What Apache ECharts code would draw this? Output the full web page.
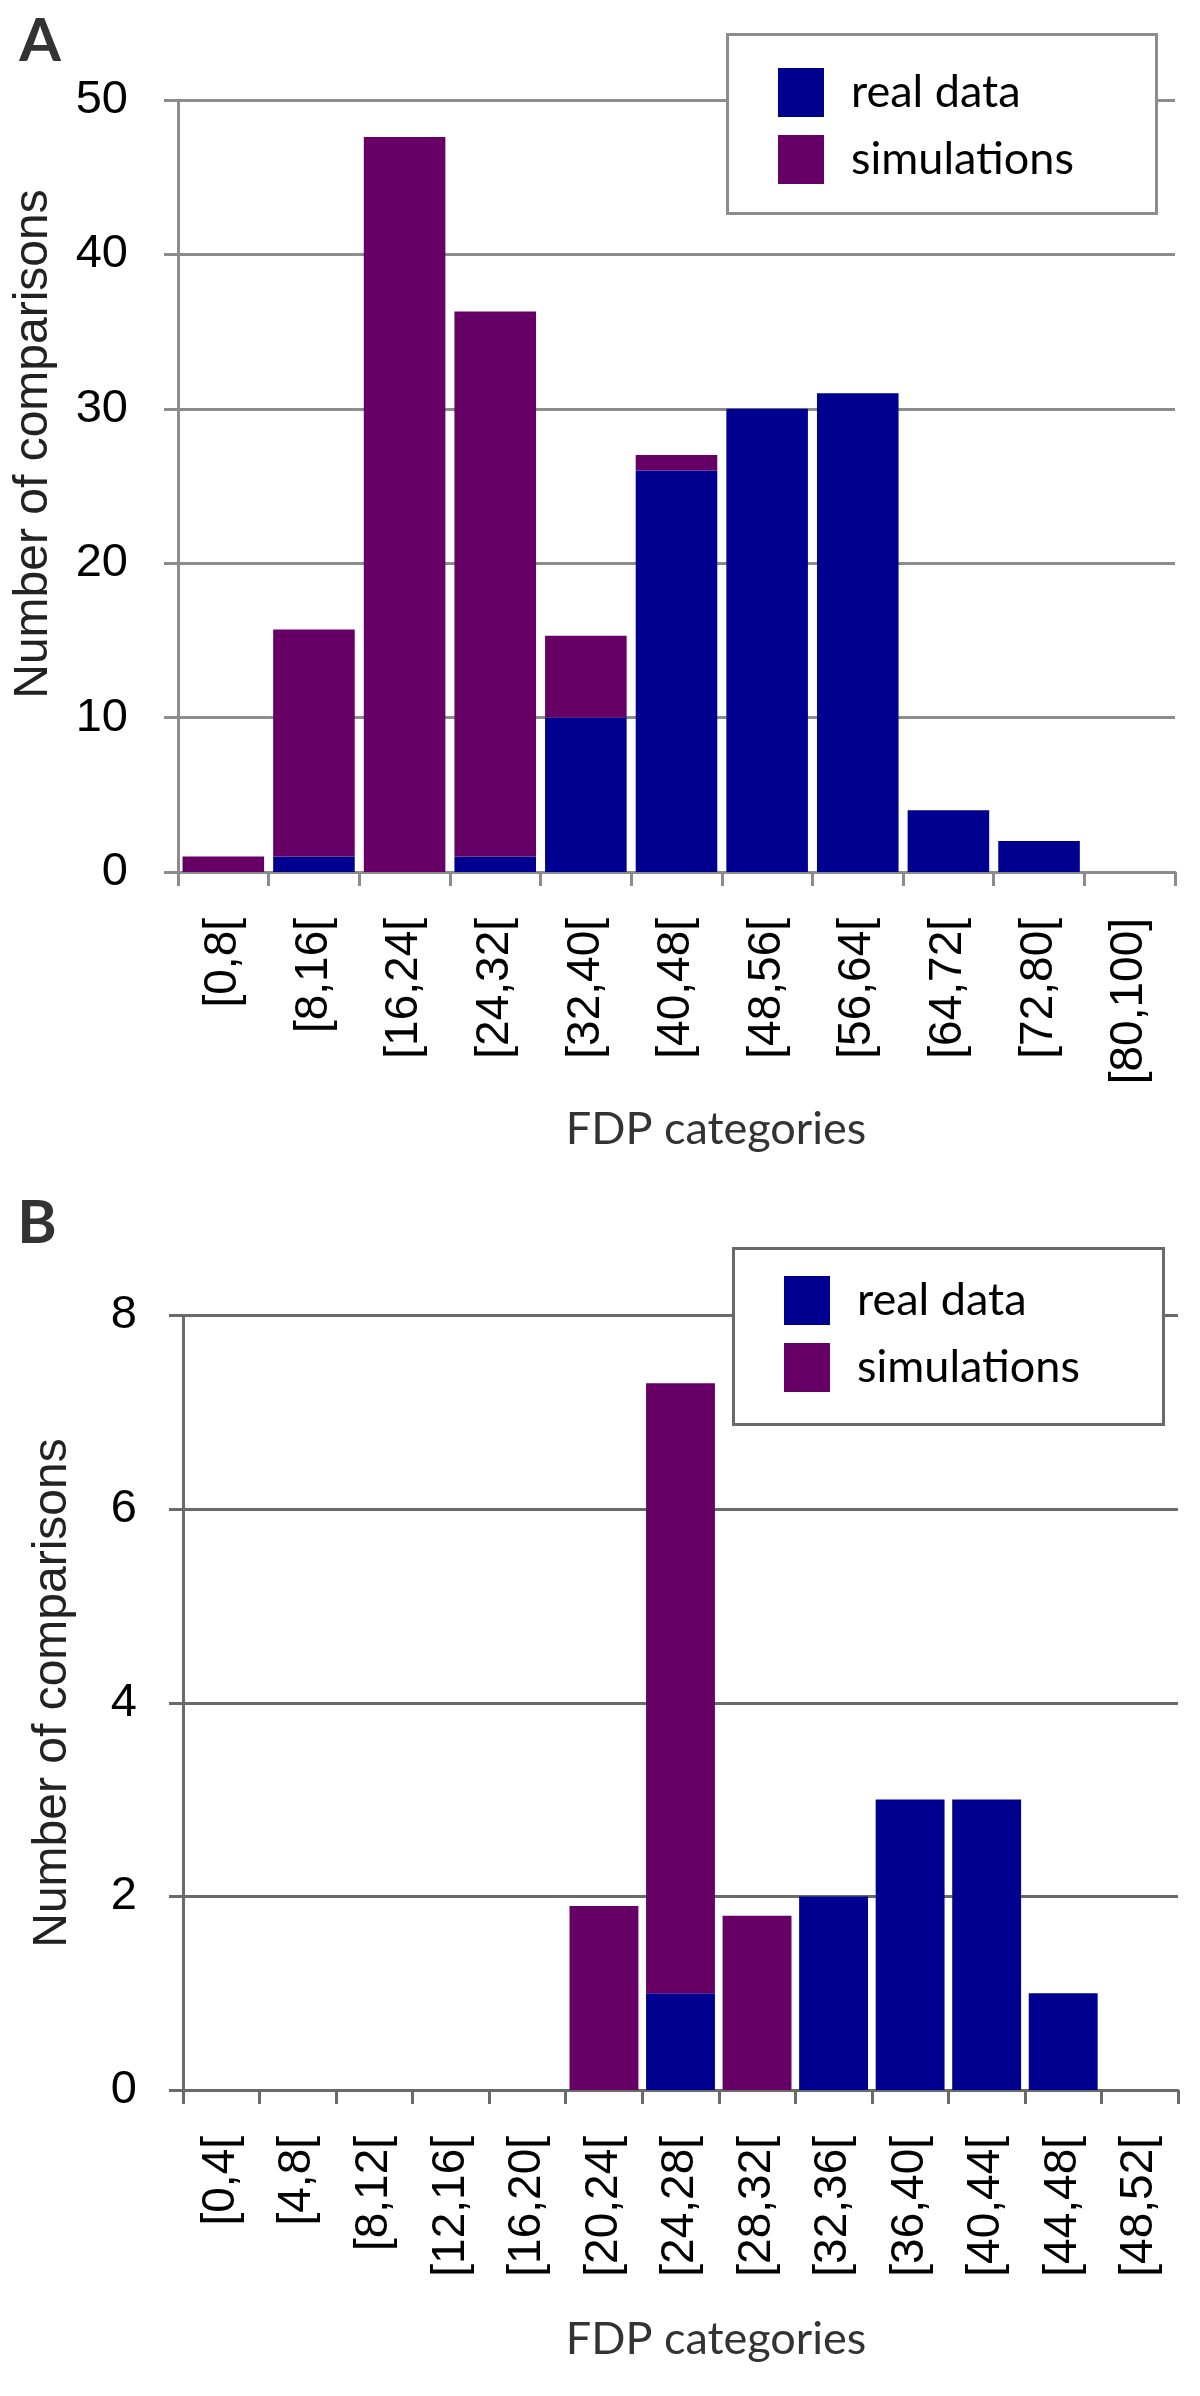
<!DOCTYPE html>
<html>
<head>
<meta charset="utf-8">
<script src="https://cdn.jsdelivr.net/npm/echarts@6/dist/echarts.min.js"></script>
<style>
html,body{margin:0;padding:0;background:#fff;}
#chart{width:1200px;height:2396px;}
</style>
</head>
<body>
<div id="chart"></div>
<script>
// ---- Data ----
const catsA = ['[0,8[','[8,16[','[16,24[','[24,32[','[32,40[','[40,48[','[48,56[','[56,64[','[64,72[','[72,80[','[80,100]'];
const realA = [0, 1, 0, 1, 10, 26, 30, 31, 4, 2, 0];
const simA  = [1, 14.7, 47.6, 35.3, 5.3, 1, 0, 0, 0, 0, 0];

const catsB = ['[0,4[','[4,8[','[8,12[','[12,16[','[16,20[','[20,24[','[24,28[','[28,32[','[32,36[','[36,40[','[40,44[','[44,48[','[48,52['];
const realB = [0, 0, 0, 0, 0, 0, 1, 0, 2, 3, 3, 1, 0];
const simB  = [0, 0, 0, 0, 0, 1.9, 6.3, 1.8, 0, 0, 0, 0, 0];

const seriesNames = ['real data', 'simulations'];
const yMaxA = 50, yStepA = 10;
const yMaxB = 8, yStepB = 2;
const panelLabels = ['A', 'B'];
const xTitle = 'FDP categories';
const yTitle = 'Number of comparisons';

// ---- Styles ----
const BLUE = '#000090', PURPLE = '#660066';
const GREY_A = '#8c8c8c', GREY_B = '#6a6a6a';
const SANS = '"Liberation Sans", Arial, sans-serif';
const CAL = 'Lato, "Open Sans", sans-serif';

function xAxisCfg(idx, cats, grey) {
  return {
    type: 'category', gridIndex: idx, data: cats,
    boundaryGap: true,
    axisLine: { show: true, lineStyle: { color: grey, width: 3 } },
    axisTick: { show: true, length: 14, interval: 0, lineStyle: { color: grey, width: 3 } },
    axisLabel: { interval: 0, rotate: 90, margin: 46, fontFamily: SANS, fontSize: 46, color: '#000' },
    splitLine: { show: false }
  };
}
function yAxisCfg(idx, max, step, grey, margin) {
  return {
    type: 'value', gridIndex: idx, min: 0, max: max, interval: step,
    axisLine: { show: true, lineStyle: { color: grey, width: 3 } },
    axisTick: { show: true, length: 14, lineStyle: { color: grey, width: 3 } },
    axisLabel: { margin: margin, fontFamily: SANS, fontSize: 47, color: '#000' },
    splitLine: { show: true, lineStyle: { color: grey, width: 3 } }
  };
}
function barSeries(name, data, color, xi, stack) {
  return {
    type: 'bar', name: name, data: data, xAxisIndex: xi, yAxisIndex: xi,
    stack: stack, barCategoryGap: '10%',
    itemStyle: { color: color },
    emphasis: { disabled: true },
    animation: false
  };
}
function legendCfg(left, top) {
  return {
    orient: 'vertical', left: left, top: top, padding: 0,
    itemWidth: 46, itemHeight: 49, itemGap: 18,
    selectedMode: false,
    data: seriesNames.map(n => ({ name: n, icon: 'rect' })),
    textStyle: { fontFamily: CAL, fontSize: 45, color: '#000', padding: [0, 0, 0, 22] }
  };
}
function txt(x, y, s, font, color, opts) {
  return Object.assign({
    type: 'text', x: x, y: y, z: 10,
    style: { text: s, font: font, fill: color, align: 'center', verticalAlign: 'middle' }
  }, opts || {});
}

const chart = echarts.init(document.getElementById('chart'), null, { renderer: 'canvas' });
chart.setOption({
  animation: false,
  backgroundColor: '#fff',
  grid: [
    { left: 178, top: 100, width: 997, height: 772 },
    { left: 183, top: 1315.5, width: 995, height: 774.5 }
  ],
  xAxis: [xAxisCfg(0, catsA, GREY_A), xAxisCfg(1, catsB, GREY_B)],
  yAxis: [yAxisCfg(0, yMaxA, yStepA, GREY_A, 50), yAxisCfg(1, yMaxB, yStepB, GREY_B, 46)],
  legend: [legendCfg(778, 68), legendCfg(784, 1276)],
  series: [
    barSeries(seriesNames[0], realA, BLUE, 0, 'a'),
    barSeries(seriesNames[1], simA, PURPLE, 0, 'a'),
    barSeries(seriesNames[0], realB, BLUE, 1, 'b'),
    barSeries(seriesNames[1], simB, PURPLE, 1, 'b')
  ],
  graphic: [
    { type: 'rect', z: 3, shape: { x: 727.5, y: 34.5, width: 429, height: 179 },
      style: { fill: '#fff', stroke: GREY_A, lineWidth: 3 } },
    { type: 'rect', z: 3, shape: { x: 733.5, y: 1248.5, width: 430, height: 176 },
      style: { fill: '#fff', stroke: GREY_B, lineWidth: 3 } },
    txt(40, 42, panelLabels[0], 'bold 60px ' + CAL, '#333'),
    txt(37, 1224, panelLabels[1], 'bold 60px ' + CAL, '#333'),
    txt(34, 444, yTitle, '48px ' + SANS, '#222', { rotation: Math.PI / 2 }),
    txt(53, 1693, yTitle, '48px ' + SANS, '#222', { rotation: Math.PI / 2 }),
    txt(716, 1129, xTitle, '45px ' + CAL, '#333'),
    txt(716, 2339, xTitle, '45px ' + CAL, '#333')
  ]
});
</script>
</body>
</html>
